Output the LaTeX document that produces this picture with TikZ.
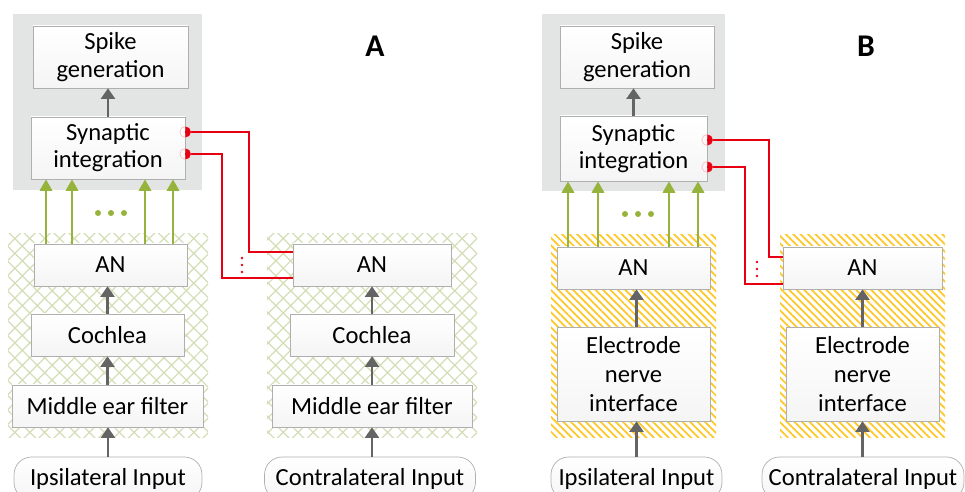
\documentclass[tikz,border=0pt]{standalone}
\usepackage{fontspec}
\setmainfont{Carlito}
\usetikzlibrary{arrows.meta,patterns.meta}
\definecolor{panelgray}{RGB}{227,228,228}
\definecolor{boxline}{RGB}{175,175,175}
\definecolor{arrowgray}{RGB}{100,100,100}
\definecolor{syngreen}{RGB}{150,180,60}
\definecolor{hatchgreen}{RGB}{212,222,182}
\definecolor{hatchyellow}{RGB}{253,200,40}
\definecolor{inhibred}{RGB}{232,0,18}
\begin{document}
\begin{tikzpicture}[
  x=0.02cm, y=-0.02cm,
  block/.style={rectangle, draw=boxline, top color=white, bottom color=gray!8, inner sep=0pt, align=center, font=\fontsize{14}{15.5}\selectfont},
  tallblock/.style={block, font=\fontsize{14}{16.4}\selectfont, minimum width=3.06cm, minimum height=1.88cm},
  inputbox/.style={block, rounded corners=10pt, minimum height=0.86cm},
  panel/.style={fill=panelgray},
  hatchA/.style={pattern={Hatch[angle=45,distance=6pt,line width=0.7pt]}, pattern color=hatchgreen},
  hatchB/.style={pattern={Lines[angle=-45,distance=3pt,line width=1pt]}, pattern color=hatchyellow},
  grayarrow/.style={-{Triangle[width=8pt,length=6pt]}, draw=arrowgray, line width=1.2pt},
  synarrow/.style={-{Triangle[width=7pt,length=6.5pt]}, draw=syngreen, line width=1.3pt},
  inhib/.style={draw=inhibred, line width=1.1pt},
  panellabel/.style={font=\fontsize{18}{20}\bfseries\selectfont}
]
\useasboundingbox (0,0) rectangle (965,492);

% Backgrounds
\fill[panel] (13,14) rectangle (202,190);
\fill[panel] (542,14) rectangle (725,191);
\fill[hatchA] (8,234) rectangle (208,438);
\fill[hatchA] (267,234) rectangle (477,438);
\fill[hatchB] (551,235) rectangle (716,438);
\fill[hatchB] (780,235) rectangle (945,438);

% Panel A
\node[block, minimum width=3.1cm, minimum height=1.24cm] (spikeA) at (110.5,57) {Spike\\generation};
\node[block, minimum width=3.08cm, minimum height=1.24cm] (synA) at (108,148) {Synaptic\\integration};
\node[block, minimum width=3.06cm, minimum height=0.84cm] (anA) at (110.5,265) {AN};
\node[block, minimum width=3.06cm, minimum height=0.84cm] (cochA) at (107.5,335) {Cochlea};
\node[block, minimum width=3.82cm, minimum height=0.84cm] (mefA) at (107.5,406) {Middle ear filter};
\node[inputbox, minimum width=3.76cm] (ipsiA) at (108,478.5) {Ipsilateral Input};
\node[block, minimum width=3.16cm, minimum height=0.84cm] (anA2) at (372,265) {AN};
\node[block, minimum width=3.28cm, minimum height=0.84cm] (cochA2) at (372,335) {Cochlea};
\node[block, minimum width=4.0cm, minimum height=0.84cm] (mefA2) at (372,406) {Middle ear filter};
\node[inputbox, minimum width=4.22cm] (contraA) at (370,478.5) {Contralateral Input};
\node[panellabel] (labA) at (375,46) {A};

% Panel B
\node[block, minimum width=3.08cm, minimum height=1.24cm] (spikeB) at (637,57) {Spike\\generation};
\node[block, minimum width=2.94cm, minimum height=1.3cm] (synB) at (633.5,148.5) {Synaptic\\integration};
\node[block, minimum width=3.06cm, minimum height=0.84cm] (anB) at (633.5,268) {AN};
\node[tallblock] (elecB) at (633.5,374) {Electrode\\nerve\\interface};
\node[inputbox, minimum width=3.42cm] (ipsiB) at (636.5,478.5) {Ipsilateral Input};
\node[block, minimum width=3.18cm, minimum height=0.84cm] (anB2) at (862.5,268) {AN};
\node[tallblock] (elecB2) at (862.5,374) {Electrode\\nerve\\interface};
\node[inputbox, minimum width=4.04cm] (contraB) at (863,478.5) {Contralateral Input};
\node[panellabel] (labB) at (866,46) {B};

% Arrows
\draw[grayarrow] (synA.north) -- (synA.north |- spikeA.south);
\draw[grayarrow] (ipsiA.north) -- (ipsiA.north |- mefA.south);
\draw[grayarrow] (mefA.north) -- (mefA.north |- cochA.south);
\draw[grayarrow] (cochA.north) -- (cochA.north |- anA.south);
\draw[grayarrow] (contraA.north -| anA2) -- (anA2 |- mefA2.south);
\draw[grayarrow] (mefA2.north) -- (cochA2.south);
\draw[grayarrow] (cochA2.north) -- (anA2.south);
\draw[grayarrow] (synB.north) -- (synB.north |- spikeB.south);
\draw[grayarrow] (ipsiB.north) -- (ipsiB.north |- elecB.south);
\draw[grayarrow] (ipsiB.north |- elecB.north) -- (ipsiB.north |- anB.south);
\draw[grayarrow] (contraB.north -| elecB2) -- (elecB2.south);
\draw[grayarrow] (elecB2.north) -- (anB2.south);
\foreach \x in {46,72,145,173}
  \draw[synarrow] (\x,0 |- anA.north) -- (\x,0 |- synA.south);
\foreach \x in {568,598,669,698}
  \draw[synarrow] (\x,0 |- anB.north) -- (\x,0 |- synB.south);
\foreach \x in {98,111,124}
  \fill[syngreen] (\x,213) circle[radius=3];
\foreach \x in {625,638,651}
  \fill[syngreen] (\x,214) circle[radius=3];

% Contralateral inhibition
\coordinate (inhA1) at (synA.east |- 0,132);
\coordinate (inhA2) at (synA.east |- 0,154);
\coordinate (inhB1) at (synB.east |- 0,140);
\coordinate (inhB2) at (synB.east |- 0,167);
\draw[inhib] (inhA1) -| (249,252) -- (anA2.west |- 0,252);
\draw[inhib] (inhA2) -| (222,278) -- (anA2.west |- 0,278);
\draw[inhib] (inhB1) -| (769,257) -- (anB2.west |- 0,257);
\draw[inhib] (inhB2) -| (745,284) -- (anB2.west |- 0,284);
\foreach \p in {inhA1,inhA2,inhB1,inhB2}{
  \draw[inhibred!25, line width=0.4pt] (\p) circle[radius=5.5];
  \begin{scope}
    \clip ([shift={(0,-7)}]\p) rectangle ++(8,14);
    \fill[inhibred] (\p) circle[radius=5.5];
  \end{scope}
}
\foreach \y in {258,265,272}
  \fill[inhibred] (242,\y) circle[radius=1.4];
\foreach \y in {262,269,276}
  \fill[inhibred] (757,\y) circle[radius=1.4];
\end{tikzpicture}
\end{document}
